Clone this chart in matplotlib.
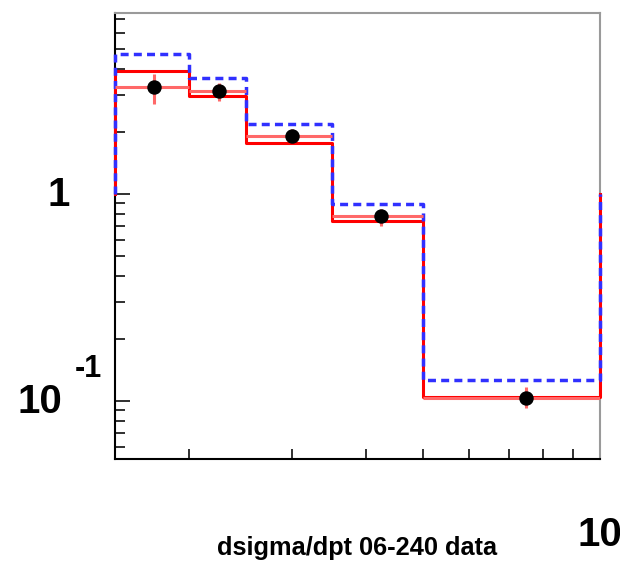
import numpy as np
import matplotlib.pyplot as plt
from matplotlib.ticker import FixedLocator, NullFormatter, LogLocator
import matplotlib.transforms as mtransforms

plt.rcParams['font.family'] = ['Liberation Sans', 'DejaVu Sans']
plt.rcParams['font.weight'] = 'bold'

# ============================ DATA ===================================
bin_edges = [1.5, 2.0, 2.5, 3.5, 5.0, 10.0]
outer_level = 1.0   # content just outside the drawn range
hist_blue = [4.76, 3.64, 2.18, 0.895, 0.126]
hist_red = [3.93, 2.98, 1.77, 0.738, 0.104]

data_x = [1.75, 2.25, 3.0, 4.25, 7.5]
data_y = [3.29, 3.15, 1.91, 0.786, 0.103]
data_lo = [2.73, 2.82, 1.78, 0.703, 0.092]
data_hi = [3.80, 3.45, 2.05, 0.850, 0.117]

x_title = "dsigma/dpt 06-240 data"


def step_path(edges, vals, level):
    edges = np.asarray(edges)
    vals = np.concatenate(([level], np.asarray(vals), [level]))
    xs = np.repeat(edges, 2)
    ys = np.empty(2*len(edges))
    for i in range(len(edges)):
        ys[2*i] = vals[i]
        ys[2*i+1] = vals[i+1]
    return xs, ys


# ============================ PLOT ===================================
fig = plt.figure(figsize=(6.2, 5.66), dpi=100)
ax = fig.add_axes([115/620, 1-459/566, 485/620, 446/566])
ax.set_xscale('log')
ax.set_yscale('log')
ax.set_xlim(1.5, 10.0)
ax.set_ylim(0.0524, 7.48)

xs, ys = step_path(bin_edges, hist_red, outer_level)
ax.plot(xs, ys, color='#ff0000', lw=2.2, clip_on=False, zorder=3)
xs, ys = step_path(bin_edges, hist_blue, outer_level)
ax.plot(xs, ys, color='#3030ff', lw=2.5, ls=(0, (2.3, 1.5)), clip_on=False, zorder=4)

xe = np.array(data_x)
edges = np.array(bin_edges)
xerr = [xe - edges[:-1], edges[1:] - xe]
ye = np.array(data_y)
yerr = [ye - np.array(data_lo), np.array(data_hi) - ye]
ax.errorbar(xe, ye, xerr=xerr, yerr=yerr, fmt='none', ecolor='#ff6868',
            elinewidth=2.2, capsize=0, zorder=5)
ax.plot(xe, ye, 'o', color='black', ms=9.4, zorder=6)

# spines
for side in ['left', 'bottom']:
    ax.spines[side].set_color('black')
    ax.spines[side].set_linewidth(1.5)
for side in ['top', 'right']:
    ax.spines[side].set_color('#9a9a9a')
    ax.spines[side].set_linewidth(1.5)

# ticks
ax.xaxis.set_major_locator(FixedLocator([10.0]))
ax.xaxis.set_minor_locator(FixedLocator([2, 3, 4, 5, 6, 7, 8, 9]))
ax.xaxis.set_major_formatter(NullFormatter())
ax.xaxis.set_minor_formatter(NullFormatter())
ax.yaxis.set_major_locator(FixedLocator([0.1, 1.0]))
ax.yaxis.set_minor_locator(LogLocator(base=10, subs=np.arange(2, 10)))
ax.yaxis.set_major_formatter(NullFormatter())
ax.yaxis.set_minor_formatter(NullFormatter())
ax.tick_params(axis='x', which='both', direction='in', length=7.2, width=1.4,
               top=False, color='#303030')
ax.tick_params(axis='y', which='major', direction='in', length=10.8, width=1.4,
               right=False, color='#303030')
ax.tick_params(axis='y', which='minor', direction='in', length=7.2, width=1.4,
               right=False, color='#303030')

# labels, ROOT style
ytr = mtransforms.blended_transform_factory(ax.transAxes, ax.transData)
ax.annotate("1", xy=(0, 1.0), xycoords=ytr, xytext=(-32.4, -1), textcoords='offset points',
            ha='right', va='center', fontsize=29, fontweight='bold')
ax.annotate("10", xy=(0, 0.1), xycoords=ytr, xytext=(-38, -1), textcoords='offset points',
            ha='right', va='center', fontsize=29, fontweight='bold')
ax.annotate("-1", xy=(0, 0.1), xycoords=ytr, xytext=(-9.4, 23), textcoords='offset points',
            ha='right', va='center', fontsize=22, fontweight='bold')

xtr = mtransforms.blended_transform_factory(ax.transData, ax.transAxes)
ax.annotate("10", xy=(10.0, 0), xycoords=xtr, xytext=(0, -55), textcoords='offset points',
            ha='center', va='center', fontsize=29, fontweight='bold', annotation_clip=False)

ax.text(0.5, -0.215, x_title, transform=ax.transAxes, ha='center', va='baseline',
        fontsize=18.3, fontweight='bold')

plt.savefig("out.png", dpi=100)
